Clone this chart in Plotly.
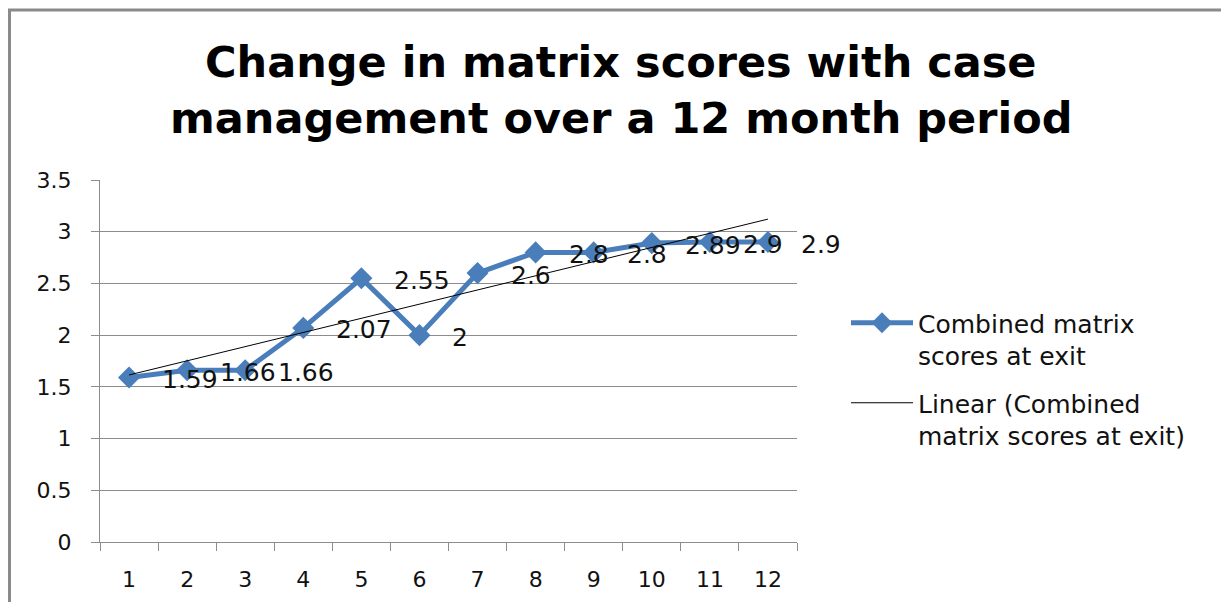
import numpy as np
import plotly.graph_objects as go

months = ["1", "2", "3", "4", "5", "6", "7", "8", "9", "10", "11", "12"]
scores = [1.59, 1.66, 1.66, 2.07, 2.55, 2.0, 2.6, 2.8, 2.8, 2.89, 2.9, 2.9]
y_ticks = [0, 0.5, 1, 1.5, 2, 2.5, 3, 3.5]
y_tick_labels = ["0", "0.5", "1", "1.5", "2", "2.5", "3", "3.5"]
series_name = "Combined matrix<br>scores at exit"
trend_name = "Linear (Combined<br>matrix scores at exit)"
title_lines = ["Change in matrix scores with case", "management over a 12 month period"]

# page body has an 8px default margin, so the figure is offset by 8px
OFF = 8
W, H = 1229 - OFF, 602 - OFF
ML, MT = 100 - OFF, 180 - OFF
MR = W - (797 - OFF)
MB = H - (542 - OFF)
PW, PH = W - ML - MR, H - MT - MB


def px_x(p):  # page pixel -> paper
    return (p - OFF - ML) / PW


def px_y(p):
    return (H - MB - (p - OFF)) / PH


FONT = "DejaVu Sans"
BLUE = "#4A7EBB"
GRID = "#8C8C8C"

idx = np.arange(1, len(scores) + 1)
slope, intercept = np.polyfit(idx, scores, 1)
trend = slope * idx + intercept

fig = go.Figure()
fig.add_trace(go.Scatter(
    x=months, y=scores, mode="lines+markers", name=series_name,
    line=dict(color=BLUE, width=5),
    marker=dict(symbol="diamond", size=17, color=BLUE),
    legendgroup="a",
))
fig.add_trace(go.Scatter(
    x=months, y=trend, mode="lines", name=trend_name,
    line=dict(color="#000000", width=1),
    legendgroup="b",
))

annotations = []
for i, v in enumerate(scores):
    annotations.append(dict(
        x=i, y=v, xref="x", yref="y", text=f"{v:g}", showarrow=False,
        xanchor="left", yanchor="middle", xshift=31, yshift=-2,
        font=dict(family=FONT, size=25, color="#111111"),
    ))
for line, py in zip(title_lines, [62, 118]):
    annotations.append(dict(
        x=px_x(621), y=px_y(py), xref="paper", yref="paper", text=line,
        showarrow=False, xanchor="center", yanchor="middle",
        font=dict(family=FONT, size=43, color="#000000", weight="bold"),
    ))

shapes = [
    dict(type="line", xref="paper", yref="paper", x0=px_x(9.5), x1=px_x(9.5),
         y0=px_y(9), y1=px_y(610), line=dict(color="#8A8A8A", width=3)),
    dict(type="line", xref="paper", yref="paper", x0=px_x(8), x1=px_x(1240),
         y0=px_y(10), y1=px_y(10), line=dict(color="#8A8A8A", width=3)),
]

fig.update_layout(
    width=W, height=H,
    margin=dict(l=ML, r=MR, t=MT, b=MB, autoexpand=False),
    paper_bgcolor="white", plot_bgcolor="white",
    font=dict(family=FONT, color="#000000"),
    showlegend=True,
    legend=dict(
        x=px_x(846), y=px_y(300), xanchor="left", yanchor="top",
        font=dict(family=FONT, size=25, color="#111111"),
        tracegroupgap=12, valign="top", itemwidth=62,
        bgcolor="rgba(0,0,0,0)",
    ),
    annotations=annotations,
    shapes=shapes,
    xaxis=dict(
        type="category", range=[-0.5, 11.5], tickson="boundaries",
        ticks="outside", ticklen=8, tickcolor=GRID, tickwidth=1,
        showline=True, linecolor=GRID, linewidth=1, showgrid=False,
        tickfont=dict(family=FONT, size=22, color="#111111"),
        ticklabelstandoff=18, zeroline=False,
    ),
    yaxis=dict(
        range=[0, 3.5], tickvals=y_ticks, ticktext=y_tick_labels,
        ticks="outside", ticklen=8, tickcolor=GRID, tickwidth=1,
        showline=True, linecolor=GRID, linewidth=1,
        showgrid=True, gridcolor=GRID, gridwidth=1, zeroline=False,
        tickfont=dict(family=FONT, size=22, color="#111111"),
        ticklabelstandoff=15,
    ),
)

fig.write_html("out.html")
